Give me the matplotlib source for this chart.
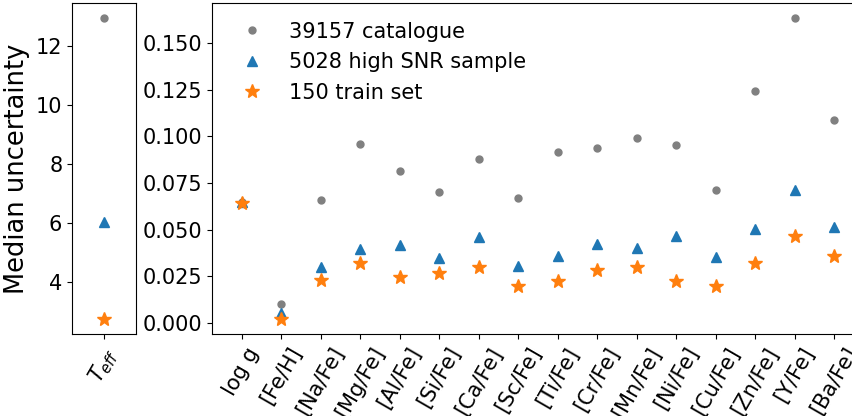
import matplotlib
matplotlib.use("Agg")
import matplotlib.pyplot as plt
import numpy as np

labels = ["log g", "[Fe/H]", "[Na/Fe]", "[Mg/Fe]", "[Al/Fe]", "[Si/Fe]", "[Ca/Fe]",
          "[Sc/Fe]", "[Ti/Fe]", "[Cr/Fe]", "[Mn/Fe]", "[Ni/Fe]", "[Cu/Fe]",
          "[Zn/Fe]", "[Y/Fe]", "[Ba/Fe]"]
catalogue = [0.065, 0.0102, 0.0657, 0.0958, 0.0815, 0.0700, 0.0876, 0.0667, 0.0917,
             0.0938, 0.0990, 0.0953, 0.0712, 0.1244, 0.1633, 0.1085]
high_snr = [0.065, 0.0054, 0.0298, 0.0394, 0.0416, 0.0350, 0.0462, 0.0307, 0.0360,
            0.0425, 0.0400, 0.0467, 0.0352, 0.0505, 0.0712, 0.0516]
train = [0.0644, 0.0022, 0.0230, 0.0323, 0.0246, 0.0268, 0.0300, 0.0198, 0.0225,
         0.0284, 0.0298, 0.0225, 0.0198, 0.0321, 0.0467, 0.0359]

teff_label = [r"$T_{eff}$"]
teff_catalogue = [12.95]
teff_high_snr = [6.03]
teff_train = [2.74]

names = ["39157 catalogue", "5028 high SNR sample", "150 train set"]

plt.rcParams["font.family"] = ["DejaVu Sans"]
fig = plt.figure(figsize=(8.53, 4.16), dpi=100)
ax1 = fig.add_axes([72/853, 82/416, 64/853, 331/416])
ax2 = fig.add_axes([212/853, 82/416, 652/853, 331/416])

x1 = np.arange(len(teff_label))
ax1.plot(x1, teff_catalogue, "o", color="grey", ms=5)
ax1.plot(x1, teff_high_snr, "^", color="tab:blue", ms=7)
ax1.plot(x1, teff_train, "*", color="tab:orange", ms=10)
ax1.set_xticks(x1)
ax1.set_xticklabels(teff_label, rotation=60, fontsize=15)
ax1.set_yticks([4, 6, 8, 10, 12])
ax1.tick_params(axis="y", labelsize=15)
ax1.set_ylabel("Median uncertainty", fontsize=18.5)
ax1.set_xlim(-1, 1)

x = np.arange(len(labels))
ax2.plot(x, catalogue, "o", color="grey", ms=5, label=names[0])
ax2.plot(x, high_snr, "^", color="tab:blue", ms=7, label=names[1])
ax2.plot(x, train, "*", color="tab:orange", ms=10, label=names[2])
ax2.set_xticks(x)
ax2.set_xticklabels(labels, rotation=60, fontsize=15)
ax2.tick_params(axis="y", labelsize=15)
ax2.set_yticks([0.0, 0.025, 0.05, 0.075, 0.1, 0.125, 0.15])
ax2.legend(loc="upper left", frameon=False, fontsize=15)

fig.savefig("out.png", dpi=100)
